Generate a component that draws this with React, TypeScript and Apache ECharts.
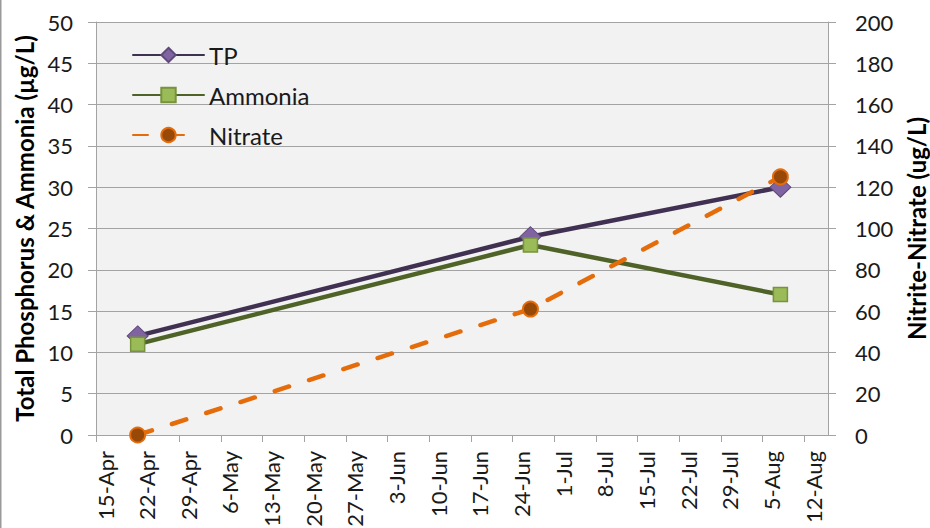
import React, { useEffect, useRef } from "react";
import * as echarts from "echarts";

const sampleDates = ["22-Apr", "27-Jun", "8-Aug"];
const tpValues = [12, 24, 30];
const ammoniaValues = [11, 23, 17];
const nitrateValues = [0, 61, 125];

const axisStart = "15-Apr";
const axisEnd = "16-Aug";
const tickStepDays = 7;

const leftTicks = { min: 0, max: 50, interval: 5 };
const rightTicks = { min: 0, max: 200, interval: 20 };

const MONTHS = ["Jan", "Feb", "Mar", "Apr", "May", "Jun", "Jul", "Aug", "Sep", "Oct", "Nov", "Dec"];
const YEAR = 2013;
const DAY = 86400000;

function toTime(s: string): number {
  const [d, m] = s.split("-");
  return Date.UTC(YEAR, MONTHS.indexOf(m), parseInt(d, 10));
}
const t0 = toTime(axisStart);
function toOffset(s: string): number {
  return Math.round((toTime(s) - t0) / DAY);
}
function offsetLabel(v: number): string {
  const dt = new Date(t0 + v * DAY);
  return `${dt.getUTCDate()}-${MONTHS[dt.getUTCMonth()]}`;
}

const FONT = "Lato";
const TICK_FS = 22;
const BIG_FS = 24;
const TXT = "#1a1a1a";

export default function App() {
  const ref = useRef<HTMLDivElement>(null);
  useEffect(() => {
    if (!ref.current) return;
    const chart = echarts.init(ref.current, null, { renderer: "svg" });
    const maxOff = toOffset(axisEnd);
    const tickVals: number[] = [];
    for (let v = 0; v <= maxOff; v += tickStepDays) tickVals.push(v);
    const xs = sampleDates.map(toOffset);
    const mk = (vals: number[]) => xs.map((x, i) => [x, vals[i]]);
    const gray = "#A3A3A3";
    chart.setOption({
      animation: false,
      textStyle: { fontFamily: FONT },
      grid: {
        left: 96,
        right: 102,
        top: 22,
        bottom: 93,
        show: true,
        backgroundColor: "#F2F2F2",
        borderWidth: 0,
        outerBoundsMode: "none",
        containLabel: false,
      },
      graphic: [
        {
          type: "line",
          shape: { x1: 0.5, y1: 0, x2: 0.5, y2: 528 },
          style: { stroke: "#9A9A9A", lineWidth: 2 },
        },
      ],
      legend: {
        orient: "vertical",
        left: 132,
        top: 43,
        padding: 0,
        itemWidth: 71,
        itemHeight: 18,
        itemGap: 16,
        data: ["TP", "Ammonia", "Nitrate"],
        textStyle: { fontFamily: FONT, fontSize: BIG_FS, lineHeight: 24, color: TXT },
      },
      xAxis: {
        type: "value",
        min: 0,
        max: maxOff,
        interval: tickStepDays,
        splitLine: { show: false },
        axisLine: { show: true, lineStyle: { color: gray, width: 1 } },
        axisTick: { show: true, length: 7, customValues: tickVals, lineStyle: { color: gray } },
        axisLabel: {
          rotate: 90,
          margin: 16,
          verticalAlign: "top",
          lineHeight: 18,
          customValues: tickVals,
          formatter: (v: number) => offsetLabel(v),
          fontFamily: FONT,
          fontSize: TICK_FS,
          color: TXT,
        },
      },
      yAxis: [
        {
          type: "value",
          min: leftTicks.min,
          max: leftTicks.max,
          interval: leftTicks.interval,
          position: "left",
          name: "Total Phosphorus & Ammonia (µg/L)",
          nameLocation: "middle",
          nameGap: 60,
          nameTextStyle: { fontFamily: FONT, fontSize: BIG_FS, fontWeight: "bold", color: "#000" },
          axisLine: { show: true, lineStyle: { color: gray } },
          axisTick: { show: true, length: 8, lineStyle: { color: gray } },
          axisLabel: { margin: 23, fontFamily: FONT, fontSize: TICK_FS, color: TXT },
          splitLine: { show: true, lineStyle: { color: gray, width: 1 } },
        },
        {
          type: "value",
          min: rightTicks.min,
          max: rightTicks.max,
          interval: rightTicks.interval,
          position: "right",
          name: "Nitrite-Nitrate (ug/L)",
          nameLocation: "middle",
          nameGap: 76,
          nameRotate: 90,
          nameTextStyle: { fontFamily: FONT, fontSize: BIG_FS, fontWeight: "bold", color: "#000" },
          axisLine: { show: true, lineStyle: { color: gray } },
          axisTick: { show: true, length: 8, lineStyle: { color: gray } },
          axisLabel: { margin: 27, fontFamily: FONT, fontSize: TICK_FS, color: TXT },
          splitLine: { show: false },
        },
      ],
      series: [
        {
          name: "TP",
          type: "line",
          yAxisIndex: 0,
          data: mk(tpValues),
          symbol: "diamond",
          symbolSize: [21, 20],
          lineStyle: { color: "#403152", width: 4.5, cap: "round" },
          itemStyle: { color: "#8064A2", borderColor: "#5F497A", borderWidth: 1 },
          z: 3,
        },
        {
          name: "Ammonia",
          type: "line",
          yAxisIndex: 0,
          data: mk(ammoniaValues),
          symbol: "rect",
          symbolSize: 14,
          lineStyle: { color: "#4F6228", width: 4.5, cap: "round" },
          itemStyle: { color: "#9BBB59", borderColor: "#77933C", borderWidth: 1.5 },
          z: 4,
        },
        {
          name: "Nitrate",
          type: "line",
          yAxisIndex: 1,
          data: mk(nitrateValues),
          symbol: "circle",
          symbolSize: 15,
          lineStyle: { color: "#E46C0A", width: 4.5, type: [15, 21], cap: "round" },
          itemStyle: { color: "#984807", borderColor: "#E46C0A", borderWidth: 2 },
          z: 5,
        },
      ],
    });
    return () => chart.dispose();
  }, []);
  return <div ref={ref} style={{ width: 930, height: 528, position: "absolute", left: 0, top: 0, background: "#fff" }} />;
}
